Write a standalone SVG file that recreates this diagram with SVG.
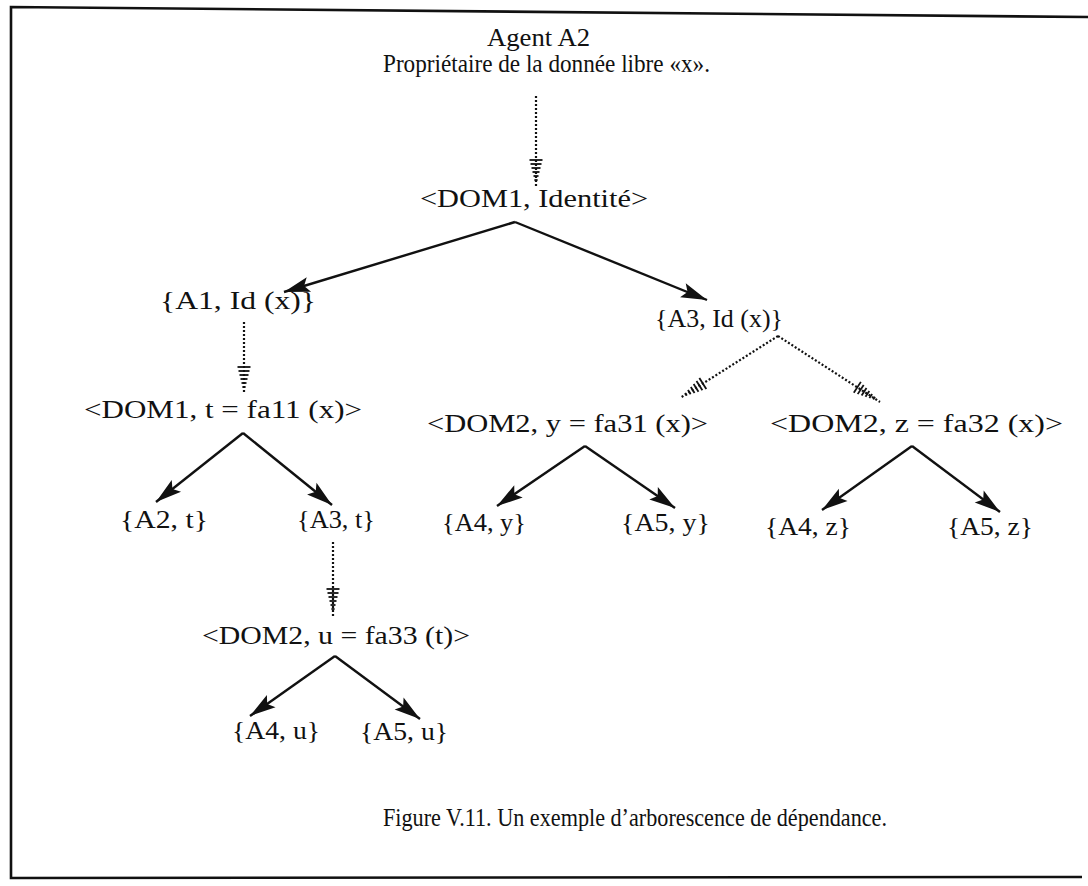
<svg xmlns="http://www.w3.org/2000/svg" width="1088" height="886" viewBox="0 0 1088 886">
<style>
text{font-family:"Liberation Serif","Times New Roman",serif;font-size:25px;fill:#111}
.solid{stroke:#111;stroke-width:2.4;fill:none;marker-end:url(#tri)}
.dot{stroke:#111;stroke-width:2.2;fill:none;stroke-dasharray:2 2;marker-end:url(#hatch)}
.frame{stroke:#111;stroke-width:2.6;fill:none}
</style>
<defs>
<marker id="tri" markerUnits="userSpaceOnUse" viewBox="-27 -9 29 18" refX="0" refY="0" markerWidth="29" markerHeight="18" orient="auto">
<path d="M0,0 L-26,-7.5 L-21,0 L-26,7.5 Z" fill="#111"/>
</marker>
<marker id="hatch" markerUnits="userSpaceOnUse" viewBox="-30 -9 32 18" refX="0" refY="0" markerWidth="32" markerHeight="18" orient="auto">
<g stroke="#111" stroke-width="1.8">
<line x1="-27" y1="-6.5" x2="-27" y2="6.5"/>
<line x1="-23" y1="-5.5" x2="-23" y2="5.5"/>
<line x1="-19" y1="-4.5" x2="-19" y2="4.5"/>
<line x1="-15" y1="-3.5" x2="-15" y2="3.5"/>
<line x1="-11" y1="-2.5" x2="-11" y2="2.5"/>
<line x1="-7" y1="-1.6" x2="-7" y2="1.6"/>
</g>
</marker>
</defs>
<g id="frame">
<path class="frame" d="M1088,17 L11,7 L11,878 L1082,877"/>
</g>
<g id="connectors">
<line class="dot" x1="536" y1="96" x2="536" y2="187"/>
<line class="solid" x1="515" y1="222" x2="284" y2="292"/>
<line class="solid" x1="515" y1="222" x2="707" y2="300"/>
<line class="dot" x1="244" y1="322" x2="244" y2="394"/>
<line class="dot" x1="778" y1="336" x2="680" y2="398"/>
<line class="dot" x1="778" y1="336" x2="880" y2="402"/>
<line class="solid" x1="243" y1="433" x2="156" y2="502"/>
<line class="solid" x1="243" y1="433" x2="332" y2="505"/>
<line class="solid" x1="585" y1="446" x2="497" y2="506"/>
<line class="solid" x1="585" y1="446" x2="675" y2="508"/>
<line class="solid" x1="912" y1="446" x2="822" y2="510"/>
<line class="solid" x1="912" y1="446" x2="1000" y2="512"/>
<line class="dot" x1="333" y1="542" x2="333" y2="616"/>
<line class="solid" x1="335" y1="656" x2="250" y2="716"/>
<line class="solid" x1="335" y1="656" x2="420" y2="719"/>
</g>
<g id="agent">
<text x="487" y="46" textLength="103" lengthAdjust="spacingAndGlyphs">Agent A2</text>
<text x="383" y="72" textLength="327" lengthAdjust="spacingAndGlyphs">Propriétaire de la donnée libre «x».</text>
</g>
<g id="dom1-identite"><text x="420" y="207" textLength="228" lengthAdjust="spacingAndGlyphs">&lt;DOM1, Identité&gt;</text></g>
<g id="a1-id"><text x="160" y="309" textLength="156" lengthAdjust="spacingAndGlyphs">{A1, Id (x)}</text></g>
<g id="a3-id"><text x="655" y="327" textLength="128" lengthAdjust="spacingAndGlyphs">{A3, Id (x)}</text></g>
<g id="dom1-t"><text x="84" y="418" textLength="278" lengthAdjust="spacingAndGlyphs">&lt;DOM1, t = fa11 (x)&gt;</text></g>
<g id="dom2-y"><text x="427" y="432" textLength="281" lengthAdjust="spacingAndGlyphs">&lt;DOM2, y = fa31 (x)&gt;</text></g>
<g id="dom2-z"><text x="770" y="432" textLength="293" lengthAdjust="spacingAndGlyphs">&lt;DOM2, z = fa32 (x)&gt;</text></g>
<g id="a2-t"><text x="120" y="528" textLength="88" lengthAdjust="spacingAndGlyphs">{A2, t}</text></g>
<g id="a3-t"><text x="297" y="528" textLength="78" lengthAdjust="spacingAndGlyphs">{A3, t}</text></g>
<g id="a4-y"><text x="442" y="531" textLength="84" lengthAdjust="spacingAndGlyphs">{A4, y}</text></g>
<g id="a5-y"><text x="621" y="531" textLength="89" lengthAdjust="spacingAndGlyphs">{A5, y}</text></g>
<g id="a4-z"><text x="765" y="535" textLength="86" lengthAdjust="spacingAndGlyphs">{A4, z}</text></g>
<g id="a5-z"><text x="947" y="535" textLength="86" lengthAdjust="spacingAndGlyphs">{A5, z}</text></g>
<g id="dom2-u"><text x="202" y="644" textLength="268" lengthAdjust="spacingAndGlyphs">&lt;DOM2, u = fa33 (t)&gt;</text></g>
<g id="a4-u"><text x="232" y="739" textLength="88" lengthAdjust="spacingAndGlyphs">{A4, u}</text></g>
<g id="a5-u"><text x="360" y="740" textLength="88" lengthAdjust="spacingAndGlyphs">{A5, u}</text></g>
<g id="caption"><text x="383" y="826" textLength="504" lengthAdjust="spacingAndGlyphs">Figure V.11. Un exemple d’arborescence de dépendance.</text></g>
</svg>
